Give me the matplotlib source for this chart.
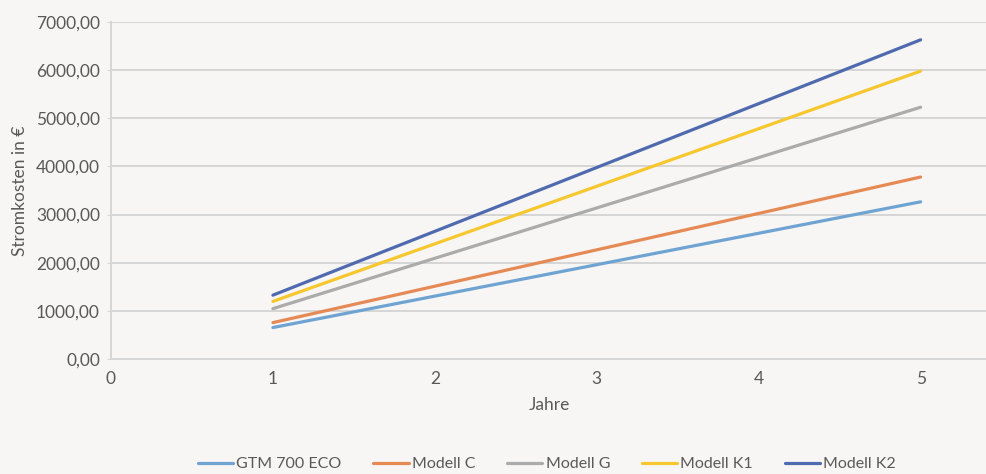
import matplotlib.pyplot as plt
import matplotlib.ticker as mticker

jahre = [1, 2, 3, 4, 5]
gtm700 = [653, 1306, 1959, 2612, 3265]
modell_c = [756, 1512, 2268, 3024, 3780]
modell_g = [1046, 2092, 3138, 4184, 5230]
modell_k1 = [1196, 2392, 3588, 4784, 5980]
modell_k2 = [1326, 2652, 3978, 5304, 6630]

namen = ['GTM 700 ECO', 'Modell C', 'Modell G', 'Modell K1', 'Modell K2']
farben = ['#6FA3D2', '#E58A54', '#ABABAB', '#F6C72E', '#4F6AAE']

plt.rcParams['font.family'] = ['Lato', 'DejaVu Sans']
bg = '#F7F6F5'
txt = '#595959'

fig = plt.figure(figsize=(9.87, 4.74), dpi=100, facecolor=bg)
ax = fig.add_axes([111/987, 115/474, 1 - 111/987, (359 - 22)/474])
ax.set_facecolor(bg)

for werte, name, farbe in zip([gtm700, modell_c, modell_g, modell_k1, modell_k2], namen, farben):
    ax.plot(jahre, werte, color=farbe, lw=2.3, label=name, solid_capstyle='round')

ax.set_xlim(0, 5.41)
ax.set_ylim(0, 7000)
ax.set_xticks(range(0, 6))
ax.set_yticks(range(0, 7001, 1000))
ax.yaxis.set_major_formatter(mticker.FuncFormatter(lambda v, p: f'{v:.2f}'.replace('.', ',')))
ax.grid(axis='y', color='#D6D6D6', lw=1.4)
ax.set_axisbelow(True)
for s in ['top', 'right']:
    ax.spines[s].set_visible(False)
ax.spines['left'].set_color('#D6D6D6')
ax.spines['left'].set_linewidth(1.4)
ax.spines['bottom'].set_color('#D6D6D6')
ax.spines['bottom'].set_linewidth(1.4)
ax.tick_params(axis='y', colors='#D6D6D6', labelcolor=txt, labelsize=12.5, length=3, pad=5)
ax.tick_params(axis='x', length=0, labelcolor=txt, labelsize=12.5, pad=9)

ax.set_xlabel('Jahre', color=txt, fontsize=12.5, labelpad=7)
ax.set_ylabel('Stromkosten in €', color=txt, fontsize=12.5, labelpad=6)

fig.legend(loc='center', bbox_to_anchor=(547/987, 1 - 464/474), ncol=5, frameon=False,
           fontsize=11.5, labelcolor=txt, handlelength=2.2, handletextpad=0.2, columnspacing=2.0)

fig.savefig('out.png', dpi=100, facecolor=bg)
